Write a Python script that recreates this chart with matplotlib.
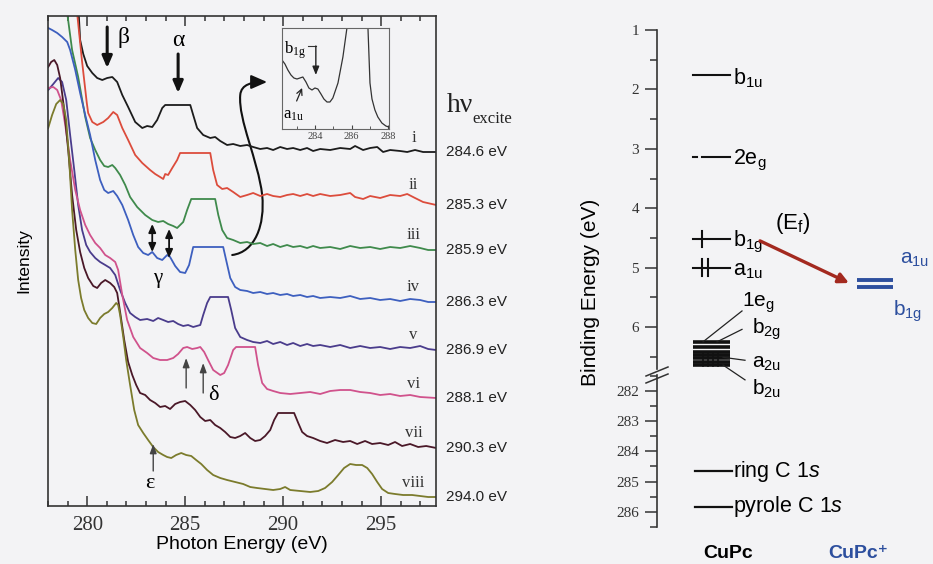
import numpy as np
import matplotlib
matplotlib.use('Agg')
import matplotlib.pyplot as plt
from matplotlib.path import Path
from matplotlib.patches import FancyArrowPatch
from matplotlib.lines import Line2D
from matplotlib.ticker import MultipleLocator, FixedLocator

plt.rcParams['mathtext.default'] = 'regular'
plt.rcParams['mathtext.fontset'] = 'custom'
plt.rcParams['mathtext.rm'] = 'Liberation Sans'
plt.rcParams['mathtext.it'] = 'Liberation Sans:italic'

SERIF = 'Liberation Serif'
SANS = 'Liberation Sans'
BG = '#f3f3f5'
W, H = 933, 564

############### NEXAFS spectra (photon energy eV, intensity a.u., offset) ###############
energy_i = [279.44, 279.64, 279.80, 280.00, 280.26, 280.51, 280.77, 281.02, 281.28, 281.53, 281.79, 282.09,
            282.45, 282.81, 283.06, 283.32, 283.57, 283.83, 283.98, 285.26, 285.41, 285.61, 285.92, 286.28,
            286.53, 286.79, 287.14, 287.45, 287.81, 288.16, 288.47, 288.83, 289.18, 289.49, 289.85, 290.20,
            290.51, 290.87, 291.22, 291.53, 291.89, 292.40, 292.91, 293.42, 293.67, 294.08, 294.44, 294.80,
            295.10, 295.46, 295.97, 296.33, 296.73, 297.14, 297.81]
signal_i = [540, 466, 452, 440, 433, 428, 426, 428, 429, 424, 411, 399,
            384, 378, 380, 379, 386, 398, 401, 401, 391, 378, 371, 368,
            369, 365, 361, 362, 360, 361, 359, 357, 358, 356, 359, 357,
            358, 356, 358, 355, 357, 356, 358, 357, 360, 356, 358, 359,
            354, 356, 355, 354, 356, 354, 354]

energy_ii = [279.40, 279.47, 279.73, 279.98, 280.05, 280.26, 280.51, 280.82, 281.07, 281.33, 281.53, 281.79,
             282.09, 282.45, 282.81, 283.21, 283.47, 283.72, 283.88, 283.98, 284.13, 284.34, 284.59, 284.74,
             286.28, 286.43, 286.63, 286.89, 287.14, 287.45, 287.81, 288.16, 288.47, 288.83, 289.18, 289.49,
             289.85, 290.20, 290.51, 290.87, 291.22, 291.53, 291.89, 292.40, 292.91, 293.42, 293.67, 294.08,
             294.44, 294.95, 295.46, 295.97, 296.33, 296.73, 297.14, 297.81]
signal_ii = [540, 496, 446, 403, 393, 384, 381, 384, 388, 394, 391, 378,
             366, 351, 343, 336, 332, 329, 327, 332, 331, 338, 346, 353,
             353, 336, 321, 317, 318, 314, 309, 311, 313, 310, 312, 310,
             309, 311, 312, 310, 312, 310, 312, 310, 311, 313, 309, 307,
             310, 308, 311, 310, 312, 308, 304, 301]

energy_iii = [278.90, 278.96, 279.23, 279.54, 279.90, 280.15, 280.41, 280.66, 280.87, 281.07, 281.28, 281.43,
              281.68, 281.94, 282.19, 282.55, 282.96, 283.32, 283.62, 283.88, 284.13, 284.39, 284.59, 284.90,
              285.10, 285.31, 286.53, 286.69, 286.89, 287.14, 287.45, 287.81, 288.16, 288.47, 288.83, 289.18,
              289.49, 289.85, 290.20, 290.51, 290.87, 291.22, 291.53, 291.89, 292.40, 292.91, 293.42, 293.93,
              294.44, 294.95, 295.46, 295.97, 296.48, 296.99, 297.40, 297.81]
signal_iii = [540, 496, 456, 429, 389, 368, 356, 346, 340, 339, 341, 338,
              331, 321, 309, 299, 291, 286, 284, 285, 282, 280, 278, 284,
              296, 307, 307, 291, 276, 268, 266, 263, 264, 262, 263, 260,
              262, 259, 261, 259, 260, 258, 260, 258, 259, 257, 260, 258,
              259, 257, 259, 258, 260, 258, 256, 256]

energy_iv = [278.01, 278.21, 278.47, 278.72, 278.98, 279.13, 279.39, 279.64, 279.90, 280.15, 280.41, 280.66,
             280.87, 281.07, 281.33, 281.53, 281.79, 282.09, 282.35, 282.60, 282.86, 283.11, 283.32, 283.57,
             283.83, 284.08, 284.23, 284.49, 284.74, 285.00, 285.20, 285.41, 286.94, 287.09, 287.30, 287.55,
             287.81, 288.16, 288.47, 288.83, 289.18, 289.49, 289.85, 290.20, 290.51, 290.87, 291.22, 291.53,
             291.89, 292.40, 292.91, 293.42, 293.93, 294.44, 294.95, 295.46, 295.97, 296.48, 296.99, 297.40,
             297.81]
signal_iv = [478, 476, 473, 469, 464, 456, 436, 413, 391, 371, 346, 326,
             316, 313, 315, 310, 301, 286, 271, 259, 253, 251, 254, 248,
             246, 251, 249, 240, 234, 233, 241, 259, 259, 246, 228, 219,
             216, 215, 213, 214, 212, 213, 211, 212, 210, 211, 209, 210,
             208, 209, 208, 210, 207, 208, 206, 207, 205, 207, 206, 204,
             204]

energy_v = [278.01, 278.27, 278.52, 278.72, 278.93, 279.13, 279.34, 279.54, 279.74, 279.95, 280.15, 280.41,
            280.66, 280.92, 281.17, 281.43, 281.68, 281.94, 282.19, 282.45, 282.70, 283.06, 283.37, 283.62,
            283.88, 284.13, 284.39, 284.64, 284.90, 285.15, 285.41, 285.77, 285.92, 286.12, 286.28, 287.19,
            287.35, 287.55, 287.81, 288.16, 288.47, 288.83, 289.18, 289.49, 289.85, 290.20, 290.51, 290.87,
            291.22, 291.53, 291.89, 292.40, 292.91, 293.42, 293.93, 294.44, 294.95, 295.46, 295.97, 296.48,
            296.99, 297.40, 297.81]
signal_v = [416, 422, 428, 424, 406, 371, 336, 301, 276, 261, 254, 248,
            244, 241, 238, 231, 216, 203, 193, 189, 186, 187, 185, 188,
            186, 184, 185, 182, 180, 181, 179, 181, 191, 203, 209, 209,
            196, 178, 169, 166, 164, 163, 165, 162, 164, 161, 163, 160,
            162, 160, 161, 159, 161, 158, 160, 158, 159, 157, 159, 158,
            160, 157, 156]

energy_vi = [278.01, 278.27, 278.47, 278.67, 278.88, 279.13, 279.39, 279.64, 279.90, 280.15, 280.41, 280.66,
             280.92, 281.17, 281.43, 281.58, 281.79, 282.04, 282.35, 282.70, 283.06, 283.37, 283.72, 284.08,
             284.39, 284.64, 284.90, 285.10, 285.36, 285.61, 285.77, 285.97, 286.17, 286.43, 286.79, 286.99,
             287.19, 287.45, 287.60, 288.57, 288.72, 288.93, 289.18, 289.49, 289.85, 290.36, 290.87, 291.38,
             291.89, 292.40, 292.91, 293.42, 293.93, 294.44, 294.95, 295.46, 295.97, 296.48, 296.99, 297.81]
signal_vi = [418, 419, 416, 406, 381, 346, 316, 296, 281, 271, 263, 258,
             251, 248, 244, 236, 211, 186, 169, 158, 153, 148, 146, 146,
             148, 152, 158, 159, 157, 158, 159, 154, 146, 136, 131, 133,
             141, 156, 159, 159, 141, 123, 117, 115, 113, 112, 113, 114,
             112, 115, 116, 116, 114, 113, 111, 112, 110, 111, 109, 108]

energy_vii = [278.01, 278.16, 278.32, 278.47, 278.62, 278.83, 279.03, 279.23, 279.44, 279.64, 279.85, 280.05,
              280.31, 280.51, 280.71, 280.92, 281.17, 281.38, 281.53, 281.68, 281.89, 282.09, 282.30, 282.50,
              282.70, 282.96, 283.21, 283.47, 283.72, 283.98, 284.23, 284.49, 284.74, 285.00, 285.26, 285.51,
              285.77, 286.02, 286.28, 286.53, 286.79, 287.04, 287.30, 287.55, 287.81, 288.06, 288.32, 288.57,
              288.83, 289.08, 289.34, 289.54, 289.74, 290.56, 290.77, 290.97, 291.22, 291.53, 291.89, 292.24,
              292.65, 293.06, 293.42, 293.78, 294.18, 294.54, 294.95, 295.36, 295.71, 296.07, 296.48, 296.89,
              297.30, 297.81]
signal_vii = [439, 444, 446, 441, 428, 396, 356, 311, 276, 254, 238, 228,
              220, 218, 223, 226, 223, 219, 213, 194, 166, 144, 131, 121,
              113, 111, 106, 103, 99, 100, 97, 102, 104, 105, 101, 96,
              89, 85, 86, 81, 78, 74, 69, 68, 70, 73, 68, 65,
              66, 70, 76, 86, 93, 93, 83, 74, 70, 68, 65, 63,
              66, 64, 65, 62, 65, 62, 63, 61, 64, 60, 62, 59,
              60, 58]

energy_viii = [278.01, 278.21, 278.42, 278.62, 278.78, 278.93, 279.08, 279.23, 279.39, 279.54, 279.69, 279.85,
               280.05, 280.26, 280.46, 280.66, 280.87, 281.07, 281.28, 281.48, 281.58, 281.68, 281.84, 281.99,
               282.19, 282.40, 282.60, 282.86, 283.11, 283.37, 283.62, 283.88, 284.08, 284.29, 284.54, 284.80,
               285.05, 285.31, 285.56, 285.82, 286.12, 286.43, 286.79, 287.14, 287.55, 287.96, 288.32, 288.67,
               289.08, 289.49, 289.85, 290.10, 290.36, 290.87, 291.38, 291.79, 292.14, 292.50, 292.81, 293.11,
               293.42, 293.72, 294.03, 294.29, 294.54, 294.80, 295.05, 295.36, 295.71, 296.12, 296.58, 296.99,
               297.40, 297.81]
signal_viii = [378, 391, 402, 406, 402, 386, 346, 296, 256, 226, 208, 196,
               188, 183, 182, 188, 192, 194, 198, 203, 201, 191, 169, 146,
               121, 96, 81, 73, 66, 59, 54, 51, 49, 48, 51, 53,
               51, 50, 46, 42, 36, 31, 28, 26, 24, 22, 19, 18,
               17, 16, 17, 19, 16, 15, 14, 15, 18, 24, 31, 38,
               42, 41, 41, 38, 32, 24, 17, 13, 12, 11, 11, 10,
               9, 9]

# inset: spectrum i around the pre-edge, expanded
inset_energy = [282.20, 282.36, 282.52, 282.69, 282.85, 283.02, 283.18, 283.34, 283.51, 283.67, 283.84, 284.00,
                284.16, 284.33, 284.49, 284.66, 284.82, 284.98, 285.26, 285.53, 285.75, 286.30, 286.84, 286.90,
                287.01, 287.12, 287.28, 287.44, 287.66, 287.88, 288.04]
inset_signal = [69, 65, 59, 54, 51, 50, 51, 52, 47, 41, 39, 41,
                40, 35, 30, 27, 27, 31, 46, 72, 101, 300, 114, 101,
                46, 30, 19, 12, 6, 3, 2]

spectra_energy = [energy_i, energy_ii, energy_iii, energy_iv, energy_v, energy_vi, energy_vii, energy_viii]
spectra_signal = [signal_i, signal_ii, signal_iii, signal_iv, signal_v, signal_vi, signal_vii, signal_viii]
roman = ['i', 'ii', 'iii', 'iv', 'v', 'vi', 'vii', 'viii']
excite_labels = ['284.6 eV', '285.3 eV', '285.9 eV', '286.3 eV', '286.9 eV', '288.1 eV', '290.3 eV', '294.0 eV']
colors = ['#1c1c1c', '#dc4c3c', '#3f8a4c', '#3d5fbf', '#4a3c8c', '#d0528c', '#4a1828', '#7b7b2c']

############### energy level diagram (binding energy, eV) ###############
valence_names = ['b$_{1u}$', '2e$_g$', 'b$_{1g}$', 'a$_{1u}$']
valence_be = [1.76, 3.14, 4.52, 5.00]
valence_electrons = [0, 0, 1, 2]
cluster_be = [6.25, 6.34, 6.42, 6.47, 6.52, 6.59, 6.64]
cluster_names = ['1e$_g$', 'b$_{2g}$', 'a$_{2u}$', 'b$_{2u}$']
core_names = ['ring C $\\mathit{1s}$', 'pyrole C $\\mathit{1s}$']
core_be = [284.66, 285.83]
cation_names = ['a$_{1u}$', 'b$_{1g}$']
cation_be = [5.21, 5.33]


def fig_xy(px, py):
    return px / W, 1 - py / H


fig = plt.figure(figsize=(W / 100, H / 100), dpi=100, facecolor=BG)

############### left panel: spectra ###############
ax = fig.add_axes([48 / W, 1 - 506 / H, 388 / W, 490 / H], facecolor=BG)
for e, s, c in zip(spectra_energy, spectra_signal, colors):
    ax.plot(e, s, color=c, lw=1.3, solid_joinstyle='round')
ax.set_xlim(278.0, 297.8)
ax.set_ylim(0, 490)
ax.set_yticks([])
ax.xaxis.set_major_locator(MultipleLocator(5))
ax.xaxis.set_minor_locator(MultipleLocator(1))
ax.tick_params(axis='x', which='both', direction='in', top=True, width=1.1, colors='#333333',
               labelsize=15, labelfontfamily=SERIF, pad=7)
ax.tick_params(axis='x', which='major', length=7)
ax.tick_params(axis='x', which='minor', length=3.5)
for sp in ax.spines.values():
    sp.set_color('#333333')
    sp.set_linewidth(1.2)
ax.set_xlabel('Photon Energy (eV)', fontsize=14, family=SANS, labelpad=1)
ax.set_ylabel('Intensity', fontsize=12.5, family=SANS, labelpad=12)

# numerals and excitation energies from the spectrum ends
for e, s, r, lab in zip(spectra_energy, spectra_signal, roman, excite_labels):
    ax.text(296.65, np.interp(296.65, e, s) + 4, r, family=SERIF, fontsize=12,
            ha='center', va='bottom', color='#333333')
    ax.text(298.3, s[-1], lab, family=SANS, fontsize=11, ha='left', va='center', color='#222222')
ax.text(298.35, 401, 'h\u03bd', family=SERIF, fontsize=20, ha='left', va='center', color='#222222')
ax.text(299.65, 387, 'excite', family=SERIF, fontsize=12, ha='left', va='center', color='#222222')

# feature markers
heavy = dict(arrowstyle='-|>,head_length=0.7,head_width=0.3', color='#111111', lw=2.2,
             shrinkA=0, shrinkB=0)
ax.annotate('', xy=(281.02, 438), xytext=(281.02, 479), arrowprops=heavy)
ax.text(281.85, 469, '\u03b2', family=SERIF, fontsize=17, ha='center', va='center')
ax.annotate('', xy=(284.64, 413), xytext=(284.64, 452), arrowprops=heavy)
ax.text(284.64, 466, '\u03b1', family=SERIF, fontsize=17, ha='center', va='center')

dbl = dict(arrowstyle='<|-|>,head_length=0.5,head_width=0.22', color='#111111', lw=1.3,
           shrinkA=0, shrinkB=0)
ax.annotate('', xy=(283.32, 254), xytext=(283.32, 282), arrowprops=dbl)
ax.annotate('', xy=(284.18, 248), xytext=(284.18, 277), arrowprops=dbl)
ax.text(283.6, 228, '\u03b3', family=SERIF, fontsize=15, ha='center', va='center')

thin = dict(arrowstyle='-|>,head_length=0.55,head_width=0.2', color='#444444', lw=1.0,
            shrinkA=0, shrinkB=0)
ax.annotate('', xy=(285.05, 148), xytext=(285.05, 118), arrowprops=thin)
ax.annotate('', xy=(285.92, 143), xytext=(285.92, 113), arrowprops=thin)
ax.text(286.45, 110, '\u03b4', family=SERIF, fontsize=16, ha='center', va='center')
ax.annotate('', xy=(283.37, 62), xytext=(283.37, 35), arrowprops=thin)
ax.text(283.22, 22, '\u03b5', family=SERIF, fontsize=16, ha='center', va='center')

# curved arrow pointing to the inset
verts = [(287.40, 251), (288.57, 254), (289.08, 281), (288.93, 311),
         (288.72, 346), (287.70, 386), (287.81, 411),
         (287.86, 422), (288.42, 424), (289.18, 424)]
codes = [Path.MOVETO] + [Path.CURVE4] * 9
ax.add_patch(FancyArrowPatch(path=Path(verts, codes), arrowstyle='-|>,head_length=0.8,head_width=0.35',
                             color='#111111', lw=1.5, mutation_scale=12))

############### inset ###############
ax_in = fig.add_axes([282 / W, 1 - 129 / H, 107 / W, 101 / H], facecolor=BG)
ax_in.plot(inset_energy, inset_signal, color='#333333', lw=0.9)
ax_in.set_xlim(282.2, 288.05)
ax_in.set_ylim(0, 101)
ax_in.set_yticks([])
ax_in.xaxis.set_major_locator(FixedLocator([284, 286, 288]))
ax_in.xaxis.set_minor_locator(MultipleLocator(1))
ax_in.tick_params(axis='x', which='both', direction='in', labelsize=7.5, labelfontfamily=SERIF,
                  pad=2, colors='#444444')
ax_in.tick_params(axis='x', which='major', length=3)
ax_in.tick_params(axis='x', which='minor', length=2)
for sp in ax_in.spines.values():
    sp.set_color('#666666')
    sp.set_linewidth(0.8)
ax_in.text(282.9, 79, 'b$_{1g}$', family=SERIF, fontsize=12, ha='center', va='center')
ax_in.plot([283.6, 284.05], [83, 83], color='#333333', lw=0.8)
ax_in.annotate('', xy=(284.05, 54), xytext=(284.05, 83),
               arrowprops=dict(arrowstyle='-|>,head_length=0.5,head_width=0.2', color='#222222',
                               lw=1.0, shrinkA=0, shrinkB=0))
ax_in.text(282.85, 14, 'a$_{1u}$', family=SERIF, fontsize=12, ha='center', va='center')
ax_in.annotate('', xy=(283.3, 41), xytext=(283.0, 28),
               arrowprops=dict(arrowstyle='->,head_length=0.4,head_width=0.2', color='#222222',
                               lw=0.9, shrinkA=0, shrinkB=0))

############### right panel: level diagram ###############
ax_top = fig.add_axes([657 / W, 1 - 369 / H, 276 / W, 339 / H])
ax_bot = fig.add_axes([657 / W, 1 - 527 / H, 276 / W, 152 / H])
ax_top.set_ylim(1 + 339 / 59.4, 1.0)
ax_bot.set_ylim(286.5, 286.5 - 152 / 30.3)
for a in (ax_top, ax_bot):
    a.set_xlim(0, 276)
    a.patch.set_visible(False)
    a.set_xticks([])
    for k in ('top', 'right', 'bottom'):
        a.spines[k].set_visible(False)
    a.spines['left'].set_color('#333333')
    a.spines['left'].set_linewidth(1.2)
    a.yaxis.set_major_locator(MultipleLocator(1))
    a.yaxis.set_minor_locator(MultipleLocator(0.5))
    a.tick_params(axis='y', which='both', direction='out', width=1.1, colors='#333333',
                  labelsize=11, labelfontfamily=SERIF, pad=4)
    a.tick_params(axis='y', which='major', length=9)
    a.tick_params(axis='y', which='minor', length=5)

lvl_x0, lvl_x1, lab_x = 36, 73, 76
for name, be, n in zip(valence_names, valence_be, valence_electrons):
    if name.startswith('2e'):
        ax_top.plot([lvl_x0, lvl_x0 + 4], [be, be], color='#111111', lw=1.5)
        ax_top.plot([lvl_x0 + 9, lvl_x1], [be, be], color='#111111', lw=1.5)
    else:
        ax_top.plot([lvl_x0, lvl_x1], [be, be], color='#111111', lw=1.5)
    for k in range(n):
        xs = lvl_x0 + 9 + 6 * k
        ax_top.plot([xs, xs], [be - 0.14, be + 0.14], color='#111111', lw=1.5)
    ax_top.text(lab_x, be + 0.05, name, family=SANS, fontsize=15.5, ha='left', va='center')

for be in cluster_be:
    ax_top.plot([lvl_x0, lvl_x1], [be, be], color='#111111', lw=2.6, solid_capstyle='butt')
for k in range(4):
    xs = 46 + 5 * k
    ax_top.plot([xs, xs], [6.42, 6.66], color='#111111', lw=1.2)

cluster_text = [(85, 5.60), (95, 6.04), (95, 6.62), (95, 7.04)]
cluster_leader = [((85, 5.73), (46, 6.25)), ((85, 6.04), (60, 6.25)),
                  ((88, 6.56), (66, 6.51)), ((88, 6.89), (66, 6.64))]
for name, (tx, ty), (p0, p1) in zip(cluster_names, cluster_text, cluster_leader):
    ax_top.text(tx, ty, name, family=SANS, fontsize=15, ha='left', va='center', clip_on=False)
    ax_top.plot([p0[0], p1[0]], [p0[1], p1[1]], color='#222222', lw=0.9, clip_on=False)

for name, be in zip(core_names, core_be):
    ax_bot.plot([lvl_x0 + 2, lvl_x1 + 2], [be, be], color='#111111', lw=1.6)
    ax_bot.text(lab_x, be, name, family=SANS, fontsize=15.5, ha='left', va='center')

blue = '#2d4f9e'
for be in cation_be:
    ax_top.plot([200, 236], [be, be], color=blue, lw=2.8, solid_capstyle='butt')
ax_top.text(243, 4.86, cation_names[0], family=SANS, fontsize=15, color=blue, ha='left', va='center')
ax_top.text(236, 5.74, cation_names[1], family=SANS, fontsize=15, color=blue, ha='left', va='center')
ax_top.annotate('', xy=(192, 5.26), xytext=(103, 4.55),
                arrowprops=dict(arrowstyle='-|>,head_length=0.6,head_width=0.3', color='#a3291f',
                                lw=2.4, shrinkA=0, shrinkB=0))
ax_top.text(136, 4.25, '(E$_f$)', family=SANS, fontsize=16, ha='center', va='center')

# axis break marks
for dy in (0, 7):
    x0, y0 = fig_xy(646, 376 + dy)
    x1, y1 = fig_xy(668, 367 + dy)
    fig.add_artist(Line2D([x0, x1], [y0, y1], color='#333333', lw=1.1))

fig.text(*fig_xy(590, 292), 'Binding Energy (eV)', family=SANS, fontsize=15,
         rotation=90, ha='center', va='center')
fig.text(*fig_xy(728, 553), 'CuPc', family=SANS, fontsize=14, fontweight='bold',
         ha='center', va='center')
fig.text(*fig_xy(858, 553), 'CuPc\u207a', family=[SANS, 'DejaVu Sans'], fontsize=14,
         fontweight='bold', color=blue, ha='center', va='center')

fig.savefig('out.png', dpi=100, facecolor=BG)
